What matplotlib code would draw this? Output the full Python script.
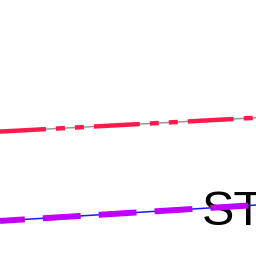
import matplotlib
matplotlib.use("Agg")
import matplotlib.pyplot as plt

plt.rcParams['lines.scale_dashes'] = False

# line endpoints (data units, 0..100 both axes)
x = [0, 100]
upper_y = [48.6, 54.0]
lower_y = [13.7, 19.9]
label_text = "ST"
label_x = 78.9
label_y = 12.1

fig = plt.figure(figsize=(2.56, 2.56), dpi=100)
ax = fig.add_axes([0, 0, 1, 1])
ax.set_xlim(0, 100)
ax.set_ylim(0, 100)
ax.axis('off')

# upper pair: thin gray with red dash-dot-dot over it
ax.plot(x, upper_y, color='#999999', linewidth=1.1, zorder=2)
ax.plot(x, upper_y, color='#ff1a4b', linewidth=3.2, zorder=3,
        linestyle=(0, (33.1, 7.2, 6.5, 7.2, 6.5, 7.2)))

# label sits under the lower pair
ax.text(label_x, label_y, label_text, fontsize=35, family='Liberation Sans',
        color='black', ha='left', va='baseline', zorder=1)

# lower pair: thin blue with purple dashes over it
ax.plot(x, lower_y, color='#1a1aff', linewidth=1.1, zorder=2)
ax.plot(x, lower_y, color='#c000ff', linewidth=4.3, zorder=3,
        linestyle=(9.4, (27.3, 13.0)))

fig.savefig('out.png', dpi=100)
